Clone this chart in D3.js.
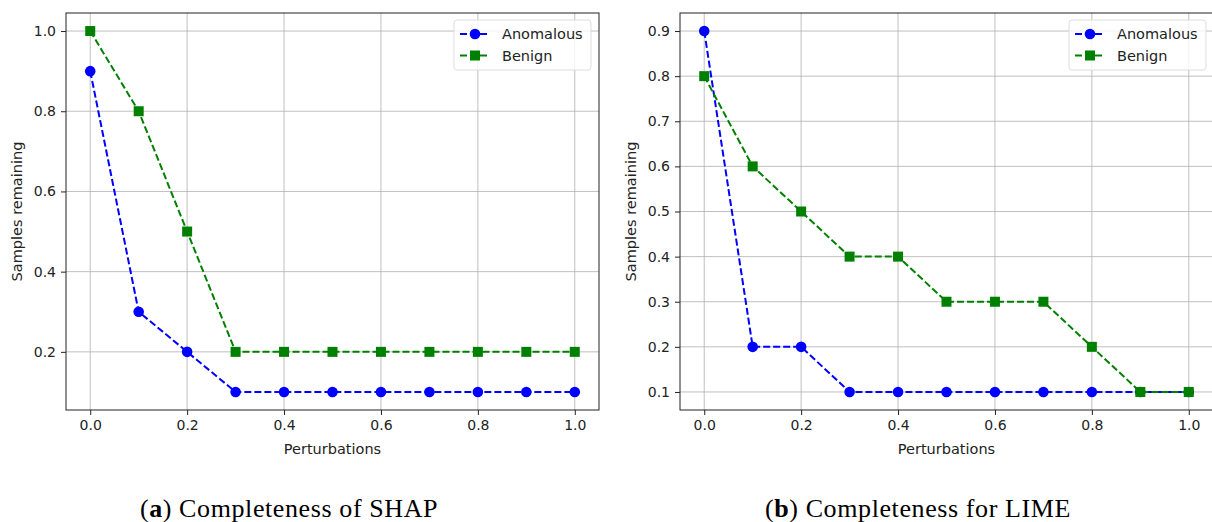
<!DOCTYPE html>
<html>
<head>
<meta charset="utf-8">
<script src="https://cdn.jsdelivr.net/npm/d3@7"></script>
<style>
  body { margin: 0; background: #fff; }
  svg text { font-family: "DejaVu Sans", sans-serif; fill: #222; }
  .caption { font-family: "Liberation Serif", serif; fill: #000; }
</style>
</head>
<body>
<svg id="chart" width="1212" height="522"></svg>
<script>
const perturbations = [0, 0.1, 0.2, 0.3, 0.4, 0.5, 0.6, 0.7, 0.8, 0.9, 1.0];

const shapAnomalous = [0.9, 0.3, 0.2, 0.1, 0.1, 0.1, 0.1, 0.1, 0.1, 0.1, 0.1];
const shapBenign = [1.0, 0.8, 0.5, 0.2, 0.2, 0.2, 0.2, 0.2, 0.2, 0.2, 0.2];

const limeAnomalous = [0.9, 0.2, 0.2, 0.1, 0.1, 0.1, 0.1, 0.1, 0.1, 0.1, 0.1];
const limeBenign = [0.8, 0.6, 0.5, 0.4, 0.4, 0.3, 0.3, 0.3, 0.2, 0.1, 0.1];

const xTicks = [0, 0.2, 0.4, 0.6, 0.8, 1.0];
const shapYTicks = [0.2, 0.4, 0.6, 0.8, 1.0];
const limeYTicks = [0.1, 0.2, 0.3, 0.4, 0.5, 0.6, 0.7, 0.8, 0.9];

const svg = d3.select("#chart");

// панель графика
function drawPanel(opt) {
    const left = opt.left, top = 13, width = 533, height = 397;
    const g = svg.append("g").attr("transform", `translate(${left}, ${top})`);

    let scaleX = d3.scaleLinear().domain([-0.05, 1.05]).range([0, width]);
    let all = opt.series.flatMap(s => s.values);
    let lo = d3.min(all), hi = d3.max(all), pad = (hi - lo) * 0.05;
    let scaleY = d3.scaleLinear().domain([lo - pad, hi + pad]).range([height, 0]);

    // сетка
    g.append("g").selectAll("line").data(xTicks).join("line")
        .attr("x1", d => scaleX(d)).attr("x2", d => scaleX(d))
        .attr("y1", 0).attr("y2", height)
        .style("stroke", "#b0b0b0").style("stroke-width", 0.8);
    g.append("g").selectAll("line").data(opt.yTicks).join("line")
        .attr("y1", d => scaleY(d)).attr("y2", d => scaleY(d))
        .attr("x1", 0).attr("x2", width)
        .style("stroke", "#b0b0b0").style("stroke-width", 0.8);

    // оси
    let axisX = d3.axisBottom(scaleX).tickValues(xTicks).tickFormat(d3.format(".1f")).tickSize(5).tickPadding(5);
    let axisY = d3.axisLeft(scaleY).tickValues(opt.yTicks).tickFormat(d3.format(".1f")).tickSize(5).tickPadding(5);
    let gx = g.append("g").attr("transform", `translate(0, ${height})`).call(axisX);
    let gy = g.append("g").call(axisY);
    [gx, gy].forEach(a => {
        a.select(".domain").remove();
        a.selectAll("text").style("font-size", "14px").style("fill", "#222");
        a.selectAll("line").style("stroke", "#222");
    });

    // линии
    let lineF = d3.line()
        .x((d, i) => scaleX(perturbations[i]))
        .y(d => scaleY(d));
    opt.series.forEach(s => {
        g.append("path")
            .datum(s.values)
            .attr("d", lineF)
            .style("fill", "none")
            .style("stroke", s.color)
            .style("stroke-width", 2)
            .style("stroke-dasharray", "7,3");
        if (s.marker === "circle") {
            g.append("g").selectAll("circle").data(s.values).join("circle")
                .attr("cx", (d, i) => scaleX(perturbations[i]))
                .attr("cy", d => scaleY(d))
                .attr("r", 5.3)
                .style("fill", s.color);
        } else {
            g.append("g").selectAll("rect").data(s.values).join("rect")
                .attr("x", (d, i) => scaleX(perturbations[i]) - 5)
                .attr("y", d => scaleY(d) - 5)
                .attr("width", 10).attr("height", 10)
                .style("fill", s.color);
        }
    });

    // рамка
    g.append("rect").attr("width", width).attr("height", height)
        .style("fill", "none").style("stroke", "#222").style("stroke-width", 1);

    // подписи осей
    g.append("text")
        .attr("x", width / 2).attr("y", height + 44)
        .attr("text-anchor", "middle")
        .style("font-size", "14.5px")
        .text("Perturbations");
    g.append("text")
        .attr("transform", `translate(${-44}, ${height / 2}) rotate(-90)`)
        .attr("text-anchor", "middle")
        .style("font-size", "14.5px")
        .text("Samples remaining");

    // легенда
    const lx = opt.legendX, ly = 7;
    let leg = g.append("g").attr("transform", `translate(${lx}, ${ly})`);
    leg.append("rect").attr("width", 137).attr("height", 50).attr("rx", 3)
        .style("fill", "rgba(255,255,255,0.8)").style("stroke", "#ddd");
    opt.series.forEach((s, i) => {
        let yy = 14 + i * 21.5;
        leg.append("line").attr("x1", 6).attr("x2", 36).attr("y1", yy).attr("y2", yy)
            .style("stroke", s.color).style("stroke-width", 2).style("stroke-dasharray", "7,3");
        if (s.marker === "circle") {
            leg.append("circle").attr("cx", 21).attr("cy", yy).attr("r", 5.3).style("fill", s.color);
        } else {
            leg.append("rect").attr("x", 16).attr("y", yy - 5).attr("width", 10).attr("height", 10).style("fill", s.color);
        }
        leg.append("text").attr("x", 48).attr("y", yy + 5)
            .style("font-size", "14.5px").text(s.name);
    });

    // подпись
    let cap = svg.append("text").attr("class", "caption")
        .attr("x", opt.captionX).attr("y", 517)
        .attr("text-anchor", "middle")
        .style("font-size", "26px")
        .style("letter-spacing", "0.6px");
    cap.append("tspan").text("(");
    cap.append("tspan").style("font-weight", "bold").text(opt.letter);
    cap.append("tspan").text(") " + opt.caption);
}

drawPanel({
    left: 66,
    yTicks: shapYTicks,
    legendX: 388,
    captionX: 289,
    letter: "a",
    caption: "Completeness of SHAP",
    series: [
        {name: "Anomalous", values: shapAnomalous, color: "blue", marker: "circle"},
        {name: "Benign", values: shapBenign, color: "green", marker: "square"}
    ]
});

drawPanel({
    left: 680,
    yTicks: limeYTicks,
    legendX: 389,
    captionX: 918,
    letter: "b",
    caption: "Completeness for LIME",
    series: [
        {name: "Anomalous", values: limeAnomalous, color: "blue", marker: "circle"},
        {name: "Benign", values: limeBenign, color: "green", marker: "square"}
    ]
});
</script>
</body>
</html>
